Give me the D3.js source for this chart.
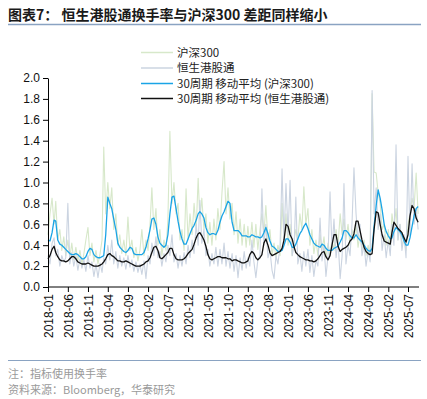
<!DOCTYPE html>
<html><head><meta charset="utf-8">
<script src="https://cdn.jsdelivr.net/npm/d3@7"></script>
<style>
html,body{margin:0;padding:0;background:#fff;}
svg{display:block;}
</style>
</head><body>
<svg id="c" width="427" height="399"></svg>
<script>
// ---- data (semi-monthly samples starting 2018-01) ----
const startMonth = "2018-01";
const hs300Raw = [0.50,0.70,0.85,0.60,0.82,0.45,0.55,0.35,0.48,0.30,0.45,0.28,0.42,0.26,0.38,0.25,0.35,0.22,0.32,0.45,
0.57,0.30,0.42,0.24,0.35,0.22,0.32,0.45,1.34,0.70,1.00,0.75,0.95,0.55,0.70,0.40,0.50,0.32,0.45,0.30,
0.67,0.35,0.45,0.28,0.38,0.25,0.35,0.55,0.30,0.45,0.35,0.60,0.95,0.55,0.75,0.40,0.55,0.30,0.45,0.35,
0.65,1.49,0.80,1.00,0.70,0.80,0.45,0.55,0.35,0.94,0.45,0.70,0.50,0.80,0.55,1.04,0.65,0.85,0.55,0.70,
0.42,0.62,0.40,0.65,0.45,0.75,0.55,0.90,1.20,0.70,0.95,0.65,0.80,0.50,0.72,0.42,0.65,0.40,0.60,0.38,
0.58,0.40,0.62,0.38,0.60,0.36,0.55,0.70,0.50,0.78,0.45,0.55,0.30,0.42,0.28,0.40,0.30,0.80,0.45,0.70,
0.40,0.60,0.30,0.45,0.55,0.45,0.70,0.55,0.96,0.60,0.75,0.40,0.55,0.32,0.45,0.30,0.50,0.35,0.48,0.28,
0.42,0.30,0.45,0.35,0.55,0.40,0.70,0.50,0.65,0.45,0.60,0.40,0.55,0.45,0.60,0.38,0.50,0.35,0.45,0.30,
0.40,0.30,1.85,1.10,1.09,0.90,0.80,0.55,0.60,0.40,0.55,0.38,0.70,0.55,0.75,0.45,0.60,0.40,0.45,0.35,
0.60,0.70,0.85,0.75,1.09,0.70];
const hkRaw = [0.30,0.22,0.42,0.47,0.30,0.36,0.20,0.30,0.24,0.28,0.80,0.22,0.33,0.20,0.30,0.16,0.27,0.18,0.26,0.15,
0.30,0.18,0.24,0.10,0.22,0.09,0.23,0.14,0.28,0.22,0.40,0.26,0.45,0.22,0.34,0.18,0.30,0.20,0.28,0.17,
0.30,0.19,0.26,0.15,0.24,0.14,0.22,0.12,0.25,0.08,0.30,0.22,0.42,0.30,0.48,0.28,0.34,0.20,0.32,0.24,
0.40,0.30,0.50,0.24,0.32,0.18,0.30,0.20,0.33,0.22,0.40,0.28,0.45,0.32,0.60,0.40,0.83,0.42,0.55,0.30,
0.36,0.20,0.32,0.22,0.38,0.20,0.36,0.22,0.42,0.20,0.34,0.18,0.32,0.15,0.30,0.09,0.28,0.16,0.34,0.18,
0.28,0.20,0.45,0.24,0.09,0.26,0.30,0.94,0.40,0.60,0.28,0.35,0.16,0.08,0.30,0.22,0.40,1.13,0.45,0.99,
0.50,1.02,0.30,0.40,0.86,0.22,0.32,0.15,0.34,0.20,0.36,0.14,0.30,0.10,0.26,0.20,0.66,0.25,0.40,0.10,
0.30,0.91,0.35,0.65,0.28,0.45,0.08,0.30,0.99,0.22,0.40,0.30,0.60,1.14,0.70,0.45,0.60,0.30,0.40,0.20,
0.35,0.24,1.88,0.70,0.95,0.55,0.70,0.35,0.50,0.28,0.45,0.30,0.60,0.40,1.36,0.45,0.60,0.35,0.50,0.28,
1.25,0.50,1.18,0.60,0.75,0.55];
const hs300MA = [0.45,0.44,0.52,0.64,0.63,0.45,0.41,0.40,0.38,0.36,0.34,0.32,0.31,0.31,0.32,0.31,0.29,0.27,0.27,0.29,
0.34,0.37,0.36,0.31,0.29,0.28,0.28,0.29,0.30,0.50,0.86,0.80,0.75,0.65,0.55,0.42,0.38,0.36,0.34,0.33,
0.35,0.38,0.37,0.32,0.31,0.31,0.31,0.31,0.33,0.38,0.46,0.55,0.65,0.66,0.60,0.48,0.42,0.40,0.38,0.40,
0.50,0.70,0.86,0.87,0.75,0.63,0.53,0.46,0.41,0.41,0.46,0.51,0.56,0.59,0.64,0.70,0.72,0.70,0.66,0.57,
0.52,0.50,0.51,0.51,0.50,0.54,0.62,0.68,0.72,0.77,0.82,0.80,0.62,0.54,0.54,0.54,0.52,0.49,0.49,0.49,
0.48,0.48,0.50,0.49,0.48,0.48,0.47,0.48,0.52,0.57,0.51,0.44,0.39,0.38,0.36,0.34,0.34,0.35,0.40,0.46,
0.46,0.43,0.38,0.38,0.41,0.46,0.51,0.54,0.58,0.61,0.56,0.50,0.46,0.42,0.40,0.39,0.38,0.41,0.40,0.37,
0.35,0.35,0.35,0.37,0.38,0.39,0.43,0.47,0.54,0.54,0.52,0.49,0.47,0.47,0.50,0.47,0.45,0.43,0.40,0.37,
0.35,0.34,0.37,0.58,0.78,0.93,0.85,0.74,0.60,0.53,0.49,0.46,0.47,0.53,0.57,0.55,0.53,0.50,0.44,0.40,
0.40,0.47,0.58,0.68,0.75,0.77];
const hkMA = [0.27,0.30,0.36,0.39,0.33,0.29,0.26,0.25,0.25,0.24,0.25,0.27,0.29,0.29,0.27,0.24,0.23,0.22,0.22,0.22,
0.23,0.22,0.21,0.20,0.20,0.20,0.21,0.22,0.24,0.27,0.31,0.32,0.30,0.29,0.27,0.25,0.25,0.24,0.24,0.25,
0.24,0.23,0.22,0.21,0.20,0.20,0.20,0.21,0.22,0.24,0.25,0.28,0.33,0.38,0.39,0.35,0.28,0.27,0.29,0.31,
0.33,0.37,0.37,0.31,0.27,0.26,0.26,0.26,0.27,0.29,0.32,0.34,0.36,0.41,0.47,0.51,0.52,0.49,0.45,0.39,
0.31,0.27,0.26,0.27,0.28,0.29,0.29,0.28,0.28,0.28,0.27,0.27,0.25,0.26,0.26,0.25,0.24,0.23,0.23,0.24,
0.25,0.31,0.34,0.32,0.28,0.26,0.28,0.31,0.42,0.46,0.40,0.33,0.30,0.31,0.32,0.33,0.34,0.37,0.45,0.60,
0.58,0.50,0.46,0.38,0.33,0.31,0.29,0.28,0.27,0.26,0.26,0.25,0.25,0.24,0.25,0.27,0.30,0.33,0.34,0.29,
0.26,0.30,0.40,0.50,0.50,0.39,0.34,0.36,0.37,0.38,0.40,0.44,0.46,0.51,0.63,0.63,0.54,0.45,0.38,0.34,
0.32,0.31,0.32,0.55,0.72,0.71,0.60,0.50,0.44,0.43,0.42,0.41,0.52,0.62,0.59,0.56,0.54,0.52,0.47,0.43,
0.50,0.68,0.78,0.75,0.66,0.62];
const xTickLabels = ["2018-01","2018-06","2018-11","2019-04","2019-09","2020-02","2020-07","2020-12","2021-05","2021-10",
"2022-03","2022-08","2023-01","2023-06","2023-11","2024-04","2024-09","2025-02","2025-07"];
const yTicks = [0,0.2,0.4,0.6,0.8,1.0,1.2,1.4,1.6,1.8,2.0];
const seriesNames = ["沪深300","恒生港股通","30周期 移动平均 (沪深300)","30周期 移动平均 (恒生港股通)"];
const seriesColors = ["#d7e8ca","#cbd4e1","#1aa4e6","#111111"];

// ---- build ----
const parseM = d3.timeParse("%Y-%m");
const start = parseM(startMonth);
function dateAt(i){
  const d = d3.timeMonth.offset(start, Math.floor(i/2));
  return i % 2 ? d3.timeDay.offset(d, 15) : d;
}
const svg = d3.select("#c");
const tickDates = xTickLabels.map(parseM);
const x = d3.scaleTime().domain([tickDates[0], tickDates[tickDates.length-1]]).range([48, 408]);
const y = d3.scaleLinear().domain([0, 2]).range([287, 78]);
const xEnd = 419;

// title
svg.append("text").attr("x", 8).attr("y", 20)
  .attr("font-family", "'Noto Sans CJK SC', sans-serif").attr("font-weight", "bold")
  .attr("font-size", 14).attr("fill", "#1a1a1a")
  .text("图表7：  恒生港股通换手率与沪深300 差距同样缩小");
svg.append("line").attr("x1", 8).attr("x2", 421).attr("y1", 24.5).attr("y2", 24.5)
  .attr("stroke", "#8aa3c2").attr("stroke-width", 1.5);

// lines
const line = d3.line().x((d,i)=>x(dateAt(i))).y(d=>y(d));
const all = [hs300Raw, hkRaw, hs300MA, hkMA];
const widths = [1.1, 1.1, 1.3, 1.3];
all.forEach((s,k)=>{
  svg.append("path").datum(s).attr("d", line).attr("fill","none")
    .attr("stroke", seriesColors[k]).attr("stroke-width", widths[k])
    .attr("stroke-linejoin","round");
});

// axes
const axisFont = "'Liberation Sans', Arial, sans-serif";
const yAxis = svg.append("g").attr("transform","translate(48,0)")
  .call(d3.axisLeft(y).tickValues(yTicks).tickFormat(d3.format(".1f")).tickSize(5).tickSizeOuter(0));
yAxis.select(".domain").attr("stroke","#000");
yAxis.selectAll("text").attr("font-family", axisFont).attr("font-size", 12).attr("fill","#111").attr("x",-8);

const xAxis = svg.append("g").attr("transform","translate(0,287)")
  .call(d3.axisBottom(x).tickValues(tickDates).tickFormat((d,i)=>xTickLabels[i]).tickSize(5).tickSizeOuter(0));
xAxis.select(".domain").attr("d", `M48,0H${xEnd}`).attr("stroke","#000");
xAxis.selectAll("text").attr("font-family", axisFont).attr("font-size", 12).attr("fill","#111")
  .attr("transform","rotate(-90)").attr("text-anchor","end").attr("x",-7).attr("y",0).attr("dy","0.35em");

// legend
const legY = [52.5, 68, 83.5, 98.5];
seriesNames.forEach((n,k)=>{
  svg.append("line").attr("x1",141).attr("x2",173).attr("y1",legY[k]).attr("y2",legY[k])
    .attr("stroke", seriesColors[k]).attr("stroke-width", 1.5);
  svg.append("text").attr("x",177).attr("y",legY[k]).attr("dy","0.35em")
    .attr("font-family","'Noto Sans CJK SC', 'Liberation Sans', sans-serif").attr("font-size",11.5)
    .attr("fill","#222").text(n);
});

// footer
svg.append("line").attr("x1", 8).attr("x2", 421).attr("y1", 360.5).attr("y2", 360.5)
  .attr("stroke", "#8aa3c2").attr("stroke-width", 1);
svg.append("text").attr("x",8).attr("y",378).attr("font-family","'Noto Sans CJK SC', sans-serif")
  .attr("font-size",11).attr("fill","#9a9a9a").text("注：指标使用换手率");
svg.append("text").attr("x",8).attr("y",394).attr("font-family","'Noto Sans CJK SC', sans-serif")
  .attr("font-size",11).attr("fill","#9a9a9a").text("资料来源：Bloomberg，华泰研究");
</script>
</body></html>
